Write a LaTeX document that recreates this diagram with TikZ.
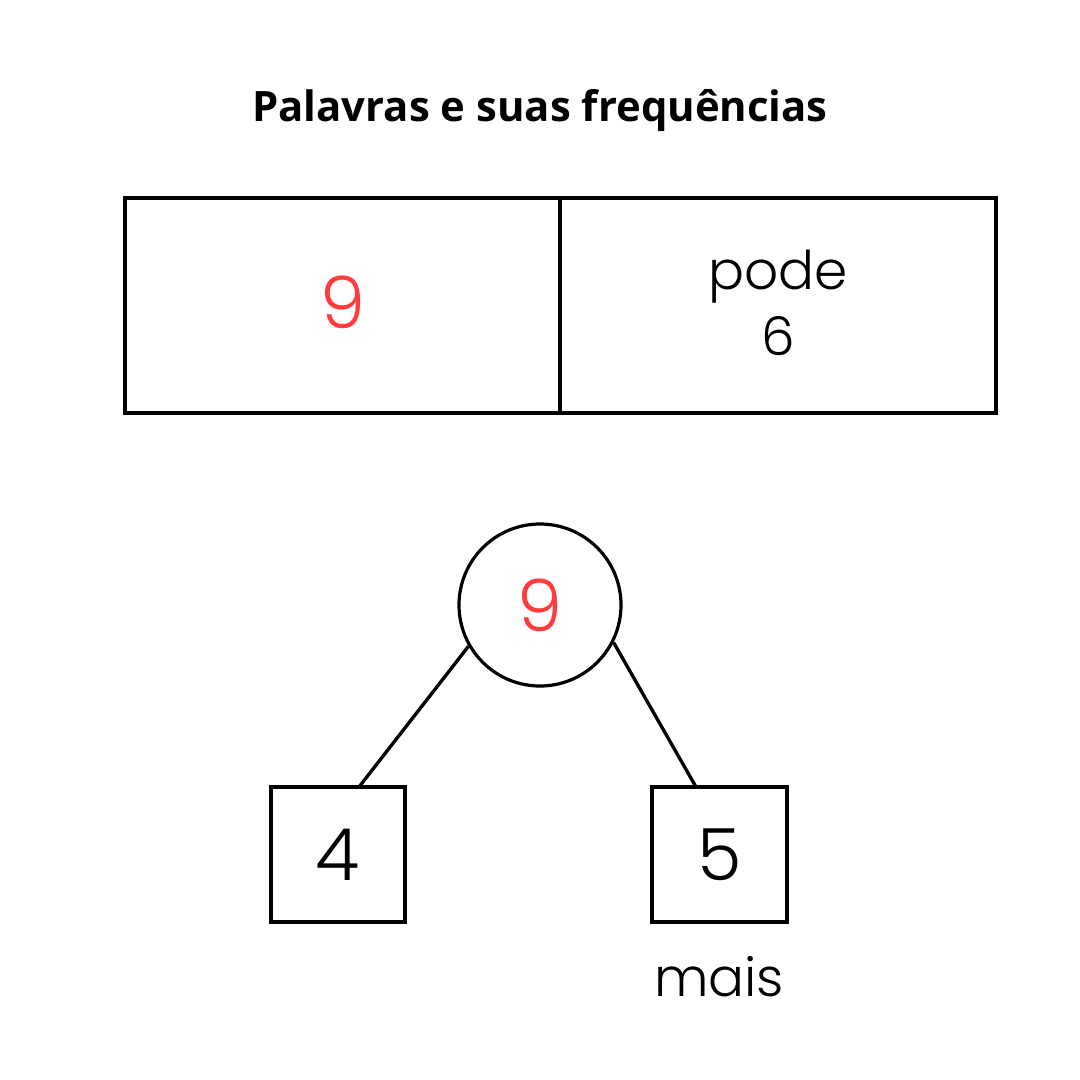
\documentclass[tikz,border=0pt]{standalone}
\usepackage{fontspec}
\setmainfont{Poppins}[UprightFont=* Light]
\newfontfamily\titlefont{Open Sans}[UprightFont=* Bold]
\definecolor{numred}{HTML}{FF3B3B}
\begin{document}
\begin{tikzpicture}[x=0.75pt,y=-0.75pt,
  frame/.style={draw=black,line width=2.4pt},
  edge/.style={draw=black,line width=2.5pt},
  bignum/.style={font=\fontsize{54}{60}\selectfont},
  midtext/.style={font=\fontsize{40}{52}\selectfont}]
\useasboundingbox (0,0) rectangle (1080,1080);
\fill[white] (0,0) rectangle (1080,1080);
\node (title) at (540,110) {\titlefont\fontsize{31.4}{36}\selectfont Palavras e suas frequências};
\node[frame,minimum width=435*0.75pt,minimum height=215*0.75pt,inner sep=0pt] (cellL) at (342.5,305.5) {};
\node[frame,minimum width=436*0.75pt,minimum height=215*0.75pt,inner sep=0pt] (cellR) at (778,305.5) {};
\node[bignum,text=numred] (nineT) at (343,302) {9};
\node[midtext,align=center] (pode) at (778,303) {pode\\[-2pt]6};
\node[frame,circle,minimum size=162*0.75pt,inner sep=0pt] (root) at (540,605) {};
\node[bignum,text=numred] at (root.center) {9};
\node[frame,minimum width=134*0.75pt,minimum height=135*0.75pt,inner sep=0pt] (left) at (338,854.5) {};
\node[bignum] at (left.center) {4};
\node[frame,minimum width=135*0.75pt,minimum height=135*0.75pt,inner sep=0pt] (right) at (719.5,854.5) {};
\node[bignum] at (right.center) {5};
\node[midtext] (mais) at (719,977) {mais};
\coordinate (lt) at (359,787);
\coordinate (rt) at (696,787);
\draw[edge] (root.-150) -- (lt);
\draw[edge] (root.-27) -- (rt);
\end{tikzpicture}
\end{document}
